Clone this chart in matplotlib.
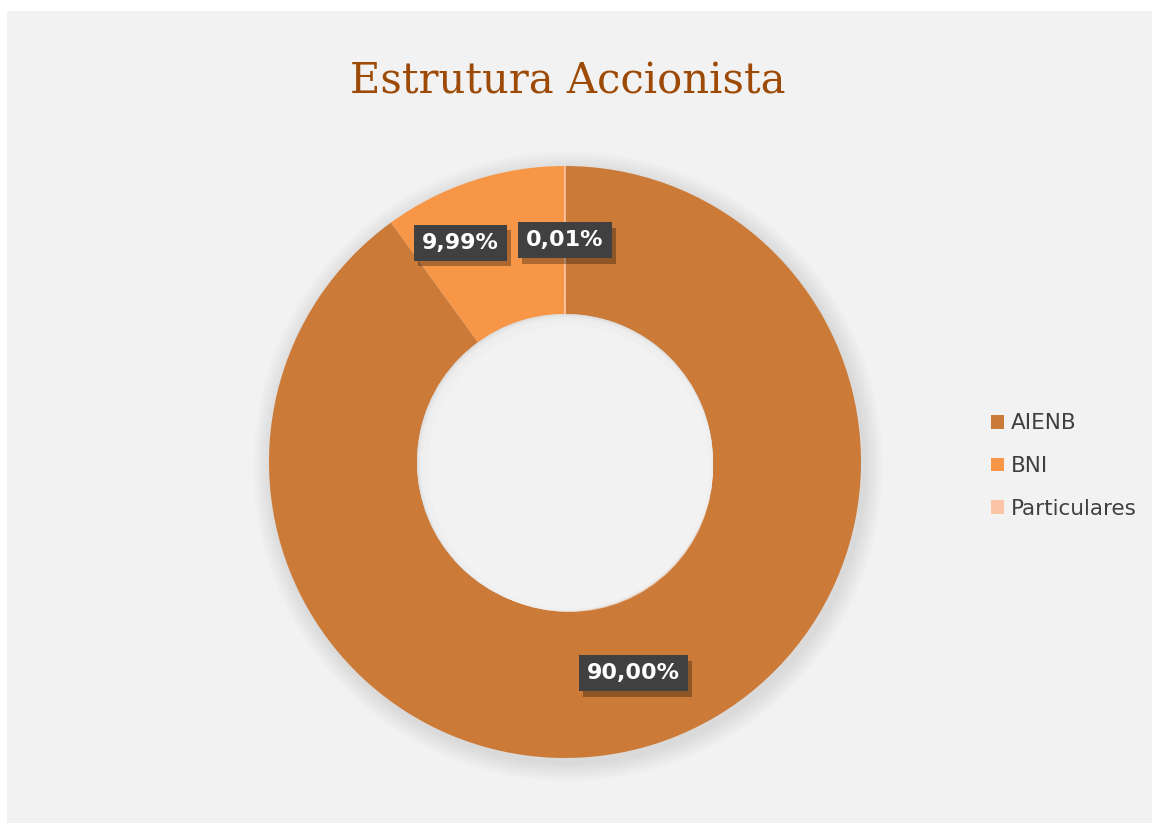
import numpy as np
import matplotlib
matplotlib.use("Agg")
import matplotlib.pyplot as plt
import matplotlib.patheffects as pe
from matplotlib.patches import Rectangle, Patch

# data
labels = ["AIENB", "BNI", "Particulares"]
values = [90.00, 9.99, 0.01]
value_text = ["90,00%", "9,99%", "0,01%"]
colors = ["#CC7A38", "#F79646", "#FBC4A4"]
label_nudge = [(0, 0), (-26, 6), (0, 0)]  # excel pushes the BNI label aside so it does not overlap

W, H = 1155, 827
fig = plt.figure(figsize=(W / 100, H / 100), dpi=100, facecolor="white")

# light grey chart area with a thin white margin
fig.patches.append(Rectangle((7 / W, 4 / H), 1145 / W, 812 / H, transform=fig.transFigure,
                             facecolor="#F2F2F2", edgecolor="none", zorder=-5))

cx, cy, R = 565, 462, 296
ax = fig.add_axes([(cx - R) / W, (H - cy - R) / H, 2 * R / W, 2 * R / H])
ax.set_facecolor("none")

# soft blurry shadow under the ring (stack of faint discs)
for i in range(8):
    s = plt.Circle((0.01, -0.015), 1.0 + 0.008 * (i + 1), color="black", alpha=0.012,
                   lw=0, zorder=0, clip_on=False)
    ax.add_patch(s)

wedges, _ = ax.pie(values, colors=colors, startangle=90, counterclock=False, radius=1.0,
                   wedgeprops=dict(width=0.5, edgecolor="none"))
for w in wedges:
    w.set_zorder(1)
    w.set_clip_on(False)
# a faint line at the top where particulares sits
wedges[2].set_edgecolor("#FBC4A4")
wedges[2].set_linewidth(0.7)

# hole in the middle, soft inner shadow along the top-left edge
ax.add_patch(plt.Circle((0, 0), 0.5, color="#DCDCDC", lw=0, zorder=2))
for k in range(1, 13):
    ax.add_patch(plt.Circle((0.0012 * k, -0.0018 * k), 0.5 - 0.0012 * k, color="#F2F2F2",
                            alpha=0.3, lw=0, zorder=2))
ax.add_patch(plt.Circle((0.012, -0.018), 0.478, color="#F2F2F2", lw=0, zorder=2))

box_shadow = [pe.SimplePatchShadow(offset=(3, -4), shadow_rgbFace="black", alpha=0.3), pe.Normal()]
for w, txt, nd in zip(wedges, value_text, label_nudge):
    ang = np.deg2rad((w.theta1 + w.theta2) / 2)
    x, y = 0.75 * np.cos(ang), 0.75 * np.sin(ang)
    ax.annotate(txt, (x, y), xytext=nd, textcoords="offset points",
                ha="center", va="center", fontsize=16, fontweight="bold", color="white",
                bbox=dict(boxstyle="square,pad=0.36", fc="#404040", ec="none",
                          path_effects=box_shadow), zorder=4)

ax.set_xlim(-1, 1)
ax.set_ylim(-1, 1)
ax.set_aspect("equal")
ax.axis("off")

fig.text(568 / W, 1 - 82 / H, "Estrutura Accionista", ha="center", va="center",
         fontsize=30, color="#9C4A06", family="DejaVu Serif")

handles = [Patch(facecolor=c, edgecolor="none") for c in colors]
fig.legend(handles, labels, loc="center left", bbox_to_anchor=(972 / W, 1 - 466 / H),
           frameon=False, fontsize=15.5, labelcolor="#404040", handlelength=0.6,
           handleheight=0.6, handletextpad=0.3, labelspacing=1.05)

fig.savefig("out.png", dpi=100, facecolor="white")
